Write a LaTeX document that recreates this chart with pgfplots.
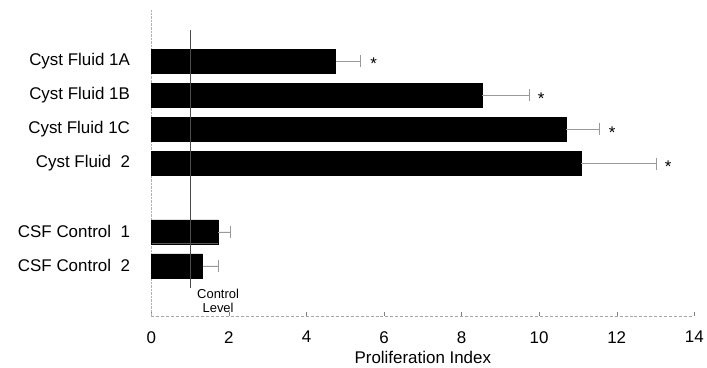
\documentclass[border=0pt]{standalone}
\usepackage{fontspec}
\setmainfont{Liberation Sans}
\usepackage{pgfplots}
\pgfplotsset{compat=1.18}
\begin{document}
\begin{tikzpicture}
\begin{axis}[
  scale only axis, width=545pt, height=307pt,
  xmin=0, xmax=14, ymin=-0.46, ymax=8.5,
  clip=false,
  axis x line*=bottom, axis y line*=left,
  x axis line style={gray!70, densely dashed, -},
  y axis line style={gray!60, densely dotted, -},
  xtick={0,2,...,14},
  ytick={1,2,4,5,6,7},
  yticklabels={CSF Control\ \ 2, CSF Control\ \ 1, Cyst Fluid\ \ 2, Cyst Fluid 1C, Cyst Fluid 1B, Cyst Fluid 1A},
  ytick style={draw=none},
  xtick style={gray, thin},
  tick align=inside, major tick length=4pt,
  /pgf/number format/assume math mode=true,
  ticklabel style={font=\fontsize{17}{20}\selectfont},
  yticklabel style={xshift=-18pt},
  xticklabel style={yshift=-12pt},
  xlabel={Proliferation Index},
  xlabel style={font=\fontsize{17}{20}\selectfont, yshift=-1pt},
]
\coordinate (bl) at (rel axis cs:0,0);
\addplot[xbar, bar width=0.7, fill=black, draw=black,
  error bars/.cd, x dir=plus, x explicit, error mark=|,
  error bar style={gray!80, thin},
  error mark options={gray!80, thin, mark size=6pt}]
coordinates {
  (4.75,7) +- (0.63,0)
  (8.53,6) +- (1.22,0)
  (10.69,5) +- (0.86,0)
  (11.09,4) +- (1.93,0)
  (1.73,2) +- (0.30,0)
  (1.32,1) +- (0.41,0)
};
\addplot[draw=none, mark=none, nodes near coords={*},
  every node near coord/.style={anchor=center, yshift=-3pt, font=\fontsize{17}{20}\selectfont}]
coordinates {(5.73,7) (10.05,6) (11.88,5) (13.33,4)};
\addplot[black!70, line width=0.5pt] coordinates {(1,7.9) (1,0.35)};
\node[align=center, font=\fontsize{13}{14}\selectfont, inner sep=0pt] at (axis cs:1.72,-0.02) {Control\\Level};
\end{axis}
\path ([xshift=-152pt,yshift=-52pt]bl) rectangle ([xshift=555pt,yshift=317pt]bl);
\end{tikzpicture}
\end{document}
